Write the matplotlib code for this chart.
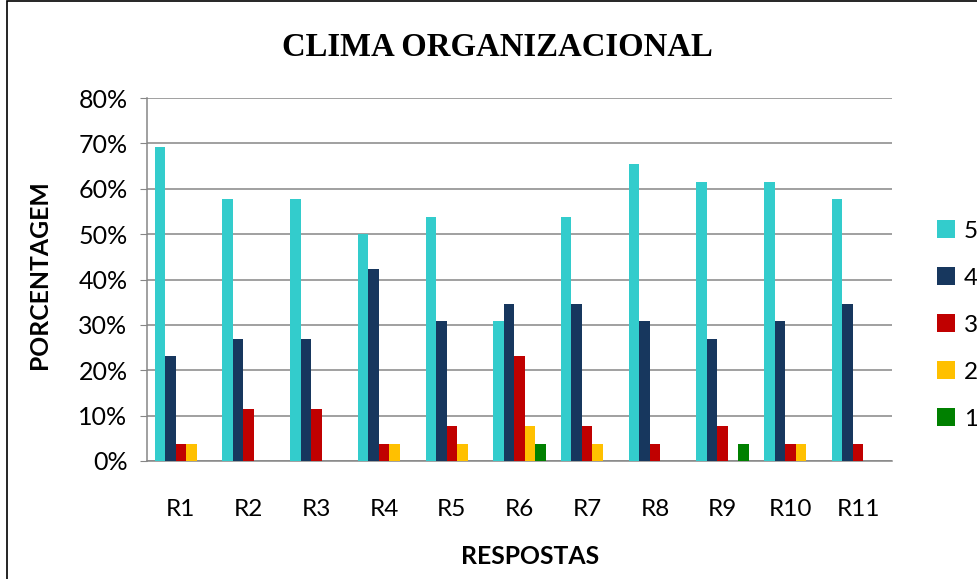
import numpy as np
import matplotlib.pyplot as plt
from matplotlib.patches import Rectangle

# respostas por questão (percentual de cada nota)
questoes = ['R1', 'R2', 'R3', 'R4', 'R5', 'R6', 'R7', 'R8', 'R9', 'R10', 'R11']
notas = ['5', '4', '3', '2', '1']
nota5 = [69.2, 57.7, 57.7, 50.0, 53.8, 30.8, 53.8, 65.4, 61.5, 61.5, 57.7]
nota4 = [23.1, 26.9, 26.9, 42.3, 30.8, 34.6, 34.6, 30.8, 26.9, 30.8, 34.6]
nota3 = [3.8, 11.5, 11.5, 3.8, 7.7, 23.1, 7.7, 3.8, 7.7, 3.8, 3.8]
nota2 = [3.8, 0, 0, 3.8, 3.8, 7.7, 3.8, 0, 0, 3.8, 0]
nota1 = [0, 0, 0, 0, 0, 3.8, 0, 0, 3.8, 0, 0]
cores = ['#33CCCC', '#17375E', '#C00000', '#FFC000', '#008000']

plt.rcParams['font.family'] = ['Lato', 'DejaVu Sans']

fig = plt.figure(figsize=(9.78, 5.79), dpi=100)
ax = fig.add_axes([147/978, 1 - 461/579, (892-147)/978, (461-98)/579])

x = np.arange(len(questoes))
w = 0.155
series = [nota5, nota4, nota3, nota2, nota1]
for i, (vals, cor, nome) in enumerate(zip(series, cores, notas)):
    ax.bar(x + (i - 2) * w, np.array(vals) / 100, w, color=cor, label=nome, zorder=3)

ax.set_xlim(-0.5, len(questoes) - 0.5)
ax.set_ylim(0, 0.8)
ax.set_yticks(np.arange(0, 0.81, 0.1))
ax.set_yticklabels([f'{int(round(v*100))}%' for v in np.arange(0, 0.81, 0.1)])
ax.set_xticks(x)
ax.set_xticklabels(questoes)
ax.yaxis.grid(True, color='#868686', linewidth=1.1, zorder=0)
ax.tick_params(axis='y', length=5, color='#868686', pad=9, labelsize=18)
ax.tick_params(axis='x', length=0, pad=27, labelsize=17.5)
for s in ['top', 'right']:
    ax.spines[s].set_visible(False)
ax.spines['left'].set_color('#868686')
ax.spines['bottom'].set_color('#868686')
ax.spines['left'].set_linewidth(1.1)
ax.spines['bottom'].set_linewidth(1.1)

fig.text(0.509, 1 - 47/579, 'CLIMA ORGANIZACIONAL', ha='center', va='center',
         fontsize=23.6, fontweight='bold', family='Liberation Serif')
fig.text(530/978, 1 - 557/579, 'RESPOSTAS', ha='center', va='center',
         fontsize=17.8, fontweight='bold')
fig.text(40/978, 1 - 275/579, 'PORCENTAGEM', ha='center', va='center',
         rotation=90, fontsize=17.8, fontweight='bold')

ax.legend(loc='center left', bbox_to_anchor=(937/978, 1 - 325/579),
          bbox_transform=fig.transFigure, frameon=False, fontsize=17.5,
          handlelength=0.76, handleheight=0.76, handletextpad=0.35,
          labelspacing=1.05, borderpad=0, borderaxespad=0)

# moldura do gráfico
fig.patches.append(Rectangle((7/978, -0.1), 1.2, 1.1 - 1/579, transform=fig.transFigure,
                             fill=False, edgecolor='black', linewidth=1.2))

fig.savefig('out.png', dpi=100)
